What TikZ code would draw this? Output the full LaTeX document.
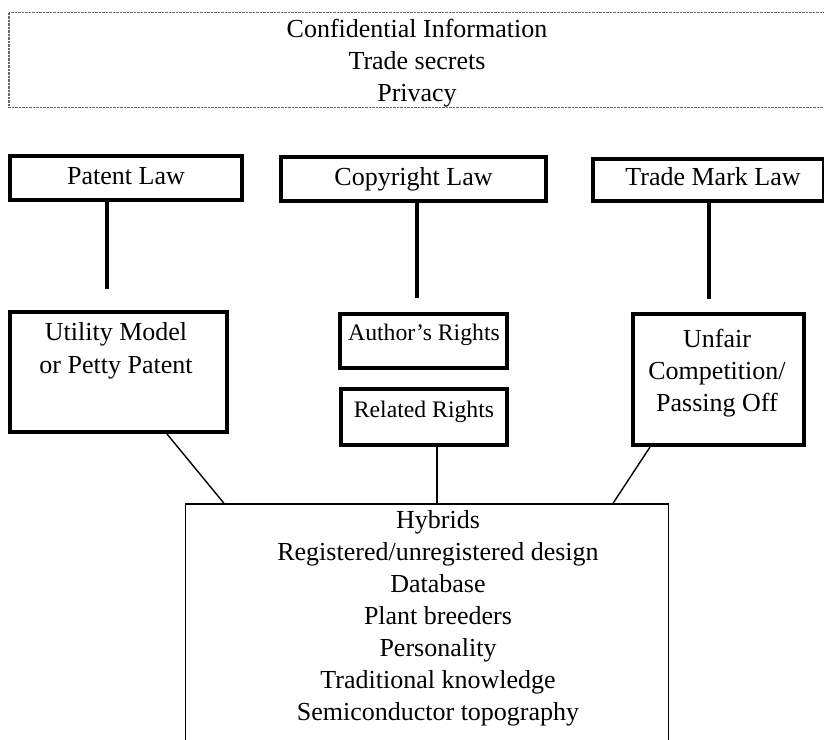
\documentclass[tikz,border=0pt]{standalone}
\usepackage{fontspec}
\setmainfont{Liberation Serif}
\begin{document}
\begin{tikzpicture}[x=1pt,y=-1pt,
  thickbox/.style={draw=black, line width=4pt, inner sep=0pt, rectangle},
  thinbox/.style={draw=black, line width=1.4pt, inner sep=0pt, rectangle},
  topbox/.style={draw=black!60, line width=1.2pt, dash pattern=on 0.8pt off 0.6pt, inner sep=0pt, rectangle},
  txt/.style={inner sep=0pt, anchor=base, align=center, font=\fontsize{26}{32}\selectfont},
  smalltxt/.style={inner sep=0pt, anchor=base, align=center, font=\fontsize{23.7}{28}\selectfont},
  thickline/.style={line width=4pt},
  thinline/.style={line width=1.4pt}]
\useasboundingbox (0,0) rectangle (824,739);

% boxes
\node[topbox, minimum width=821pt, minimum height=95pt] (conf) at (419.5,60) {};
\node[thickbox, minimum width=232pt, minimum height=44pt] (patent) at (126,178) {};
\node[thickbox, minimum width=265pt, minimum height=44pt] (copy) at (413.5,179) {};
\node[thickbox, minimum width=231pt, minimum height=42pt] (trade) at (708.5,180) {};
\node[thickbox, minimum width=217pt, minimum height=120pt] (utility) at (118.5,372) {};
\node[thickbox, minimum width=167pt, minimum height=54pt] (author) at (423.5,341) {};
\node[thickbox, minimum width=166pt, minimum height=56pt] (related) at (424,417) {};
\node[thickbox, minimum width=171pt, minimum height=131pt] (unfair) at (718.5,379.5) {};
\node[thinbox, minimum width=483pt, minimum height=256pt] (hybrid) at (427,632) {};

% texts (base anchor = baseline of the last line)
\node[txt] (confT) at (417,101) {Confidential Information\\Trade secrets\\Privacy};
\node[txt] (patentT) at (126,184) {Patent Law};
\node[txt] (copyT) at (413.5,185) {Copyright Law};
\node[txt] (tradeT) at (713,185) {Trade Mark Law};
\node[txt, font=\fontsize{26}{33}\selectfont] (utilityT) at (116,373) {Utility Model\\or Petty Patent};
\node[smalltxt] (authorT) at (424,340) {Author’s Rights};
\node[smalltxt] (relatedT) at (424,417) {Related Rights};
\node[txt] (unfairT) at (717,411) {Unfair\\Competition/\\Passing Off};
\node[txt] (hybridT) at (438,720) {Hybrids\\Registered/unregistered design\\Database\\Plant breeders\\Personality\\Traditional knowledge\\Semiconductor topography};

% connector ends
\coordinate (pend) at (107,289);
\coordinate (cend) at (417,298);
\coordinate (tend) at (709,299);
\coordinate (dl1) at (167,0);
\coordinate (dl2) at (224,0);
\coordinate (dr1) at (650,0);
\coordinate (dr2) at (613,0);
\coordinate (dm) at (437,0);

\draw[thickline] (patent.south -| pend) -- (pend);
\draw[thickline] (copy.south -| cend) -- (cend);
\draw[thickline] (trade.south -| tend) -- (tend);
\draw[thinline] (utility.south -| dl1) -- (hybrid.north -| dl2);
\draw[thinline] (related.south -| dm) -- (hybrid.north -| dm);
\draw[thinline] (unfair.south -| dr1) -- (hybrid.north -| dr2);
\end{tikzpicture}
\end{document}
